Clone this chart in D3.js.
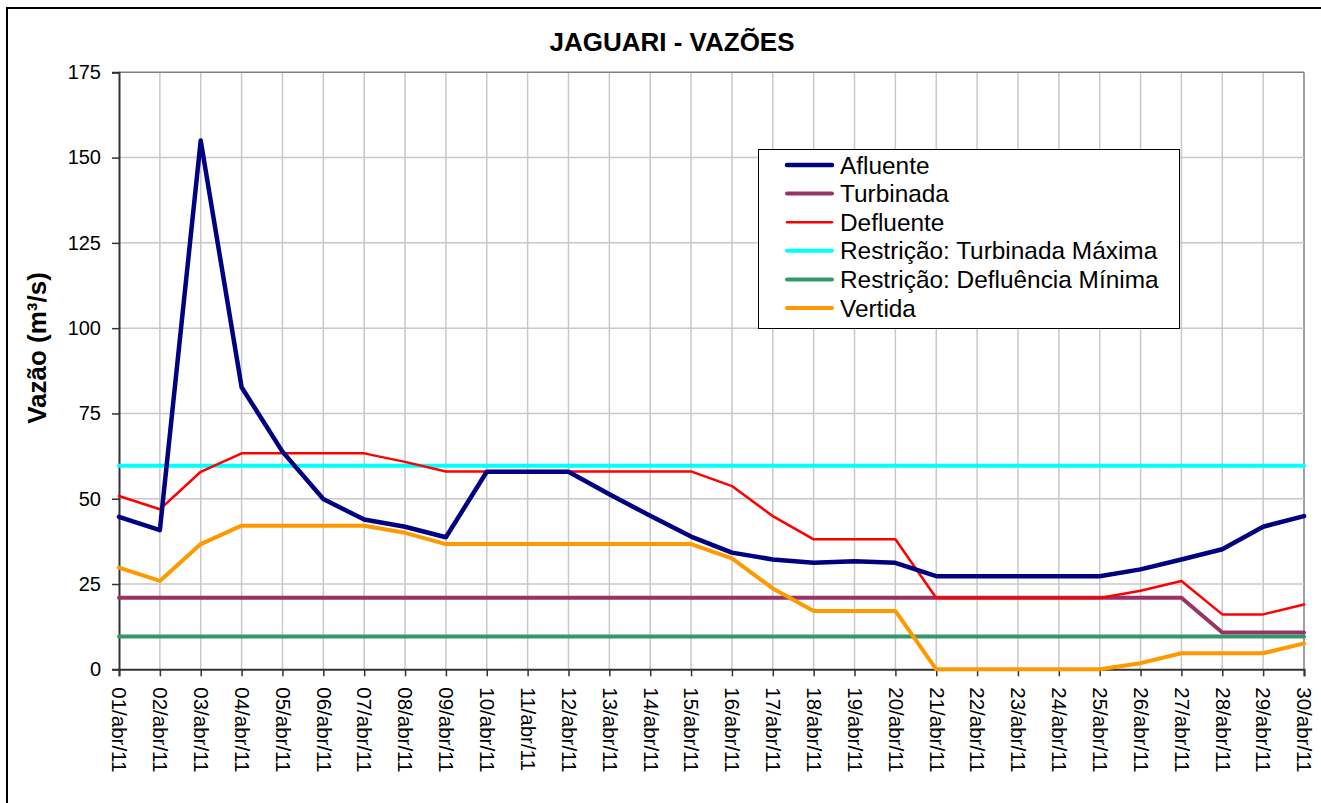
<!DOCTYPE html>
<html lang="pt">
<head>
    <meta charset="UTF-8">
    <title>JAGUARI - VAZÕES</title>
    <script src="https://d3js.org/d3.v7.min.js"></script>
    <style>
        body { margin: 0; background: #fff; }
        svg { display: block; font-family: Arial, "Liberation Sans", sans-serif; }
    </style>
</head>
<body>
    <svg id="chart"></svg>
    <script>
        const width = 1321;
        const height = 803;

        const days = [
            "01/abr/11", "02/abr/11", "03/abr/11", "04/abr/11", "05/abr/11", "06/abr/11",
            "07/abr/11", "08/abr/11", "09/abr/11", "10/abr/11", "11/abr/11", "12/abr/11",
            "13/abr/11", "14/abr/11", "15/abr/11", "16/abr/11", "17/abr/11", "18/abr/11",
            "19/abr/11", "20/abr/11", "21/abr/11", "22/abr/11", "23/abr/11", "24/abr/11",
            "25/abr/11", "26/abr/11", "27/abr/11", "28/abr/11", "29/abr/11", "30/abr/11"
        ];
        const yTicks = [0, 25, 50, 75, 100, 125, 150, 175];

        const afluente = [44.7, 40.8, 155, 82.7, 63.8, 49.9, 43.9, 41.8, 38.7, 57.9,
                          57.9, 57.9, 51.3, 45, 38.9, 34.2, 32.2, 31.2, 31.7, 31.2,
                          27.3, 27.3, 27.3, 27.3, 27.3, 29.3, 32.2, 35.2, 41.8, 44.9];
        const turbinada = [21, 21, 21, 21, 21, 21, 21, 21, 21, 21,
                           21, 21, 21, 21, 21, 21, 21, 21, 21, 21,
                           21, 21, 21, 21, 21, 21, 21, 10.8, 10.8, 10.8];
        const defluente = [50.8, 46.9, 57.9, 63.3, 63.3, 63.3, 63.3, 60.8, 58, 58,
                           58, 58, 58, 58, 58, 53.7, 44.9, 38.1, 38.1, 38.1,
                           20.9, 20.9, 20.9, 20.9, 20.9, 23, 25.9, 16.1, 16.1, 19];
        const turbMaxima = [59.7, 59.7, 59.7, 59.7, 59.7, 59.7, 59.7, 59.7, 59.7, 59.7,
                            59.7, 59.7, 59.7, 59.7, 59.7, 59.7, 59.7, 59.7, 59.7, 59.7,
                            59.7, 59.7, 59.7, 59.7, 59.7, 59.7, 59.7, 59.7, 59.7, 59.7];
        const deflMinima = [9.6, 9.6, 9.6, 9.6, 9.6, 9.6, 9.6, 9.6, 9.6, 9.6,
                            9.6, 9.6, 9.6, 9.6, 9.6, 9.6, 9.6, 9.6, 9.6, 9.6,
                            9.6, 9.6, 9.6, 9.6, 9.6, 9.6, 9.6, 9.6, 9.6, 9.6];
        const vertida = [29.8, 25.9, 36.7, 42.1, 42.1, 42.1, 42.1, 40, 36.7, 36.7,
                         36.7, 36.7, 36.7, 36.7, 36.7, 32.5, 23.7, 17.1, 17.1, 17.1,
                         0, 0, 0, 0, 0, 1.8, 4.7, 4.7, 4.7, 7.6];

        // drawing order: restrictions first, then flows
        const series = [
            {name: "Turbinada", values: turbinada, color: "#993366", w: 4},
            {name: "Restrição: Turbinada Máxima", values: turbMaxima, color: "#00ffff", w: 4},
            {name: "Restrição: Defluência Mínima", values: deflMinima, color: "#339966", w: 4},
            {name: "Vertida", values: vertida, color: "#ff9900", w: 4},
            {name: "Defluente", values: defluente, color: "#ff0000", w: 2.5},
            {name: "Afluente", values: afluente, color: "#000080", w: 4.5}
        ];
        const legendOrder = ["Afluente", "Turbinada", "Defluente",
            "Restrição: Turbinada Máxima", "Restrição: Defluência Mínima", "Vertida"];

        const plot = {left: 119, right: 1304, top: 72.3, bottom: 669.3};

        const svg = d3.select("#chart")
            .attr("width", width)
            .attr("height", height);

        // outer frame
        svg.append("rect")
            .attr("x", 7).attr("y", 8)
            .attr("width", 1330).attr("height", 820)
            .attr("fill", "none")
            .attr("stroke", "#000")
            .attr("stroke-width", 2);

        const x = d3.scalePoint().domain(days).range([plot.left, plot.right]);
        const y = d3.scaleLinear().domain([0, 175]).range([plot.bottom, plot.top]);

        // grid
        svg.append("g")
            .selectAll("line")
            .data(days.slice(1))
            .join("line")
            .attr("x1", d => x(d)).attr("x2", d => x(d))
            .attr("y1", plot.top).attr("y2", plot.bottom)
            .attr("stroke", d => d === days[days.length - 1] ? "#808080" : "#c8c8c8")
            .attr("stroke-width", 1.5);

        svg.append("g")
            .selectAll("line")
            .data(yTicks.slice(1))
            .join("line")
            .attr("x1", plot.left).attr("x2", plot.right)
            .attr("y1", d => y(d)).attr("y2", d => y(d))
            .attr("stroke", d => d === 175 ? "#808080" : "#c8c8c8")
            .attr("stroke-width", 1.5);

        // axes
        const yAxis = svg.append("g")
            .attr("transform", `translate(${plot.left},0)`)
            .call(d3.axisLeft(y).tickValues(yTicks).tickSize(7).tickPadding(11))
            .style("font-family", "Arial, 'Liberation Sans', sans-serif")
            .style("font-size", "20px");
        yAxis.select(".domain").attr("stroke", "#333").attr("stroke-width", 2);
        yAxis.selectAll(".tick line").attr("stroke", "#333").attr("stroke-width", 1.5);
        yAxis.selectAll(".tick text").attr("fill", "#000");

        const xAxis = svg.append("g")
            .attr("transform", `translate(0,${plot.bottom})`)
            .call(d3.axisBottom(x).tickSize(7).tickPadding(0))
            .style("font-family", "Arial, 'Liberation Sans', sans-serif")
            .style("font-size", "20.5px");
        xAxis.select(".domain").attr("stroke", "#333").attr("stroke-width", 2);
        xAxis.selectAll(".tick line").attr("stroke", "#333").attr("stroke-width", 1.5);
        xAxis.selectAll(".tick text")
            .attr("fill", "#000")
            .attr("text-anchor", "start")
            .attr("x", 0).attr("y", 0)
            .attr("dy", "0.35em")
            .attr("transform", "translate(0,18) rotate(90)");

        // series lines
        const line = d3.line()
            .x((d, i) => x(days[i]))
            .y(d => y(d));

        svg.append("g")
            .selectAll("path")
            .data(series)
            .join("path")
            .attr("d", d => line(d.values))
            .attr("fill", "none")
            .attr("stroke", d => d.color)
            .attr("stroke-width", d => d.w)
            .attr("stroke-linejoin", "round")
            .attr("stroke-linecap", "round");

        // title
        svg.append("text")
            .attr("x", 672).attr("y", 51)
            .attr("text-anchor", "middle")
            .style("font-size", "26px")
            .style("font-weight", "bold")
            .text("JAGUARI - VAZÕES");

        // y axis title
        svg.append("text")
            .attr("transform", "translate(46,348) rotate(-90)")
            .attr("text-anchor", "middle")
            .style("font-size", "26px")
            .style("font-weight", "bold")
            .text("Vazão (m³/s)");

        // legend
        const legend = svg.append("g");
        legend.append("rect")
            .attr("x", 758.5).attr("y", 149.5)
            .attr("width", 421).attr("height", 179)
            .attr("fill", "#fff")
            .attr("stroke", "#000")
            .attr("stroke-width", 1);

        const byName = new Map(series.map(s => [s.name, s]));
        const rowH = 28.6;
        const item = legend.selectAll("g.item")
            .data(legendOrder.map(n => byName.get(n)))
            .join("g")
            .attr("class", "item")
            .attr("transform", (d, i) => `translate(0,${165 + i * rowH})`);

        item.append("line")
            .attr("x1", 787).attr("x2", 832)
            .attr("stroke", d => d.color)
            .attr("stroke-width", d => d.w)
            .attr("stroke-linecap", "round");

        item.append("text")
            .attr("x", 840)
            .attr("dy", "0.35em")
            .style("font-size", "24.4px")
            .text(d => d.name);
    </script>
</body>
</html>
